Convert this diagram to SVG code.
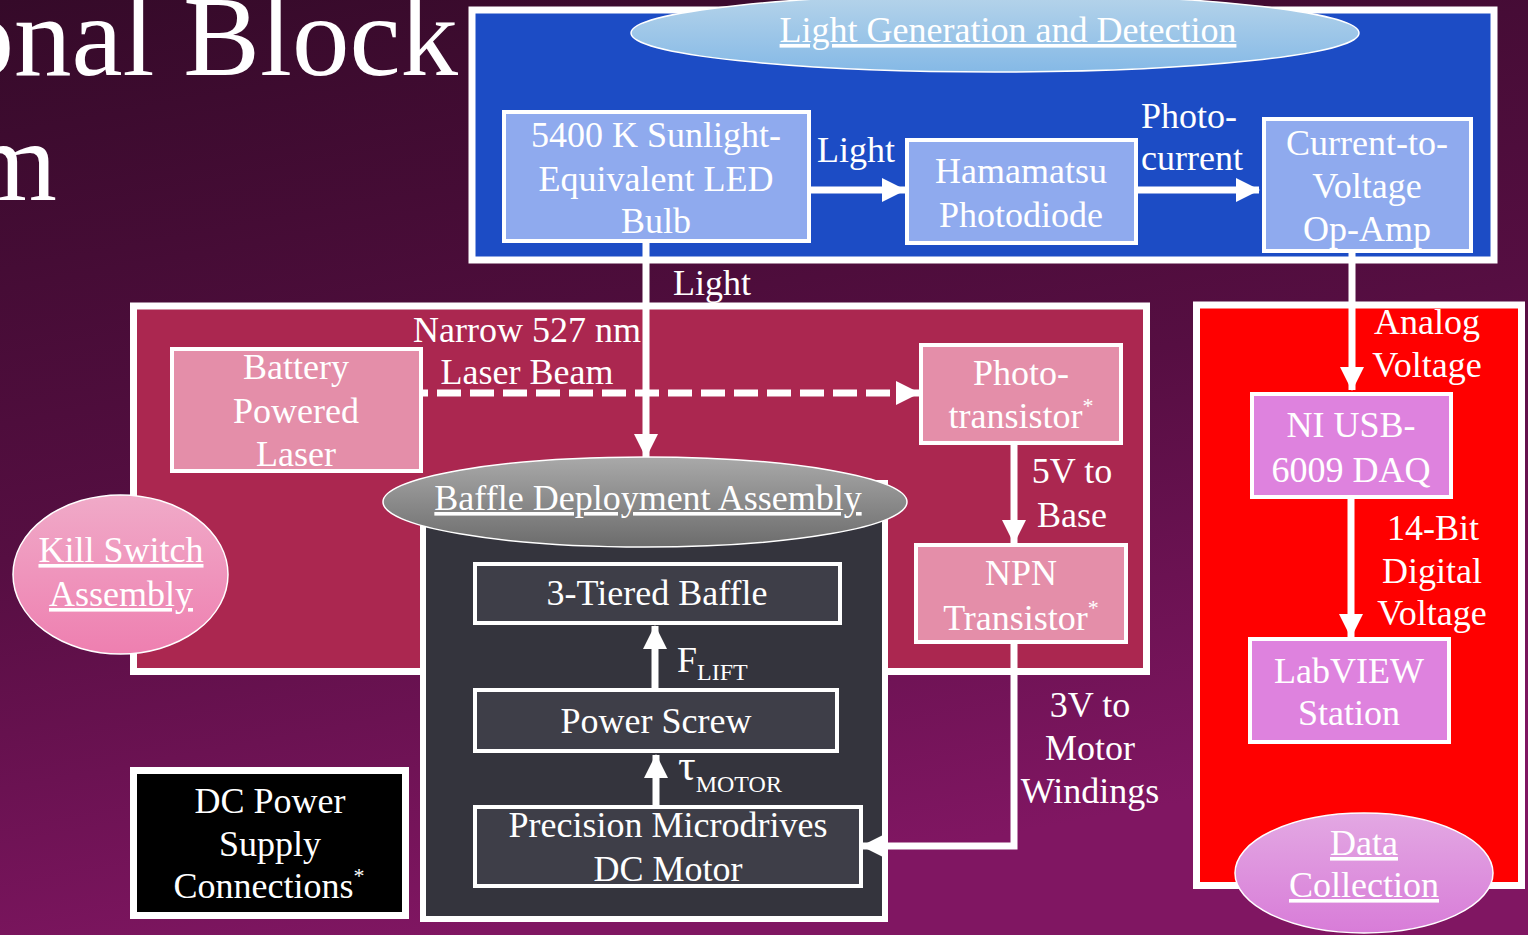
<svg xmlns="http://www.w3.org/2000/svg" width="1528" height="935" viewBox="0 0 1528 935">
<defs>
  <linearGradient id="bg" x1="0" y1="0" x2="0.3" y2="1">
    <stop offset="0" stop-color="#350a29"/>
    <stop offset="0.55" stop-color="#560e42"/>
    <stop offset="1" stop-color="#801662"/>
  </linearGradient>
  <linearGradient id="gBlue" x1="0" y1="0" x2="0" y2="1">
    <stop offset="0" stop-color="#b6d4ea"/>
    <stop offset="1" stop-color="#85b9e6"/>
  </linearGradient>
  <linearGradient id="gGrey" x1="0" y1="0" x2="0" y2="1">
    <stop offset="0" stop-color="#a9a9a9"/>
    <stop offset="1" stop-color="#6c6c6c"/>
  </linearGradient>
  <linearGradient id="gPink" x1="0" y1="0" x2="0" y2="1">
    <stop offset="0" stop-color="#f0aac8"/>
    <stop offset="1" stop-color="#ee7fb0"/>
  </linearGradient>
  <linearGradient id="gOrchid" x1="0" y1="0" x2="0" y2="1">
    <stop offset="0" stop-color="#e3a8e3"/>
    <stop offset="1" stop-color="#d87cd8"/>
  </linearGradient>
  <marker id="ah" markerUnits="userSpaceOnUse" viewBox="0 0 24 24" markerWidth="24" markerHeight="24" refX="23" refY="12" orient="auto">
    <path d="M0,0 L24,12 L0,24 z" fill="#ffffff"/>
  </marker>
</defs>
<style>
  text { font-family: "Liberation Serif", "Times New Roman", serif; fill: #ffffff; }
  .t { font-size: 36px; text-anchor: middle; }
  .ts { font-size: 36px; text-anchor: start; }
  .u { text-decoration: underline; }
  .cont { stroke: #ffffff; stroke-width: 7; }
  .box { stroke: #ffffff; stroke-width: 4; }
  .blueN { fill: #8faaee; }
  .pinkN { fill: #e48ea9; }
  .orchN { fill: #de82de; }
  .darkN { fill: #3e3e48; }
  .conn { stroke: #ffffff; stroke-width: 7; fill: none; }
  .ell { stroke: #ffffff; stroke-width: 1.5; }
</style>

<rect x="0" y="0" width="1528" height="935" fill="url(#bg)"/>

<g id="title">
  <text x="458" y="75" font-size="115" text-anchor="end" fill="#f6f6f6">onal Block</text>
  <text x="57" y="200" font-size="115" text-anchor="end" fill="#f6f6f6">m</text>
</g>

<!-- containers -->
<g id="light-generation-and-detection">
  <rect class="cont" x="472" y="10" width="1022" height="250" fill="#1c4cc5"/>
</g>
<g id="kill-switch-region">
  <rect class="cont" x="133.5" y="306" width="1013" height="365.5" fill="#ab2750"/>
</g>
<g id="data-collection-region">
  <rect class="cont" x="1196.5" y="305" width="325" height="580.5" fill="#ff0000"/>
</g>
<g id="baffle-deployment-region">
  <rect x="423" y="483" width="462" height="436" fill="#34343d" stroke="#ffffff" stroke-width="6"/>
</g>
<g id="dc-power">
  <rect class="cont" x="133.5" y="770.5" width="272" height="145" fill="#000000"/>
  <text class="t" x="270" y="813">DC Power</text>
  <text class="t" x="270" y="856">Supply</text>
  <text class="t" x="269" y="898">Connections<tspan font-size="22" dy="-15">*</tspan></text>
</g>

<!-- connectors -->
<g id="connectors">
  <line class="conn" x1="811" y1="190" x2="905" y2="190" marker-end="url(#ah)"/>
  <text class="t" x="856" y="162">Light</text>

  <line class="conn" x1="1138" y1="190" x2="1259" y2="190" marker-end="url(#ah)"/>
  <text class="ts" x="1141" y="128">Photo-</text>
  <text class="ts" x="1141" y="170">current</text>

  <line class="conn" x1="646" y1="243" x2="646" y2="457" marker-end="url(#ah)"/>
  <text class="ts" x="673" y="295">Light</text>

  <line class="conn" x1="1352" y1="253" x2="1352" y2="390" marker-end="url(#ah)"/>
  <text class="t" x="1427" y="334">Analog</text>
  <text class="t" x="1427" y="377">Voltage</text>

  <line class="conn" x1="1351" y1="499" x2="1351" y2="637" marker-end="url(#ah)"/>
  <text class="t" x="1433" y="540">14-Bit</text>
  <text class="t" x="1432" y="583">Digital</text>
  <text class="t" x="1432" y="625">Voltage</text>

  <line class="conn" x1="423" y1="393" x2="919" y2="393" stroke-dasharray="24 9" stroke-dashoffset="-14" marker-end="url(#ah)"/>
  <text class="t" x="527" y="342">Narrow 527 nm</text>
  <text class="t" x="527" y="384">Laser Beam</text>

  <line class="conn" x1="1014" y1="445" x2="1014" y2="543" marker-end="url(#ah)"/>
  <text class="t" x="1072" y="483">5V to</text>
  <text class="t" x="1072" y="527">Base</text>

  <polyline class="conn" points="1014,644 1014,846 862,846" marker-end="url(#ah)"/>
  <text class="t" x="1090" y="717">3V to</text>
  <text class="t" x="1090" y="760">Motor</text>
  <text class="t" x="1090" y="803">Windings</text>

  <line class="conn" x1="655" y1="688" x2="655" y2="626" marker-end="url(#ah)"/>
  <text class="ts" x="677" y="672">F<tspan font-size="24" dy="8">LIFT</tspan></text>

  <line class="conn" x1="656" y1="805" x2="656" y2="755" marker-end="url(#ah)"/>
  <text class="ts" x="678" y="780" style="font-size:44px">τ<tspan style="font-size:24px" dy="12">MOTOR</tspan></text>
</g>

<!-- nodes -->
<g id="light-gen-label">
  <ellipse class="ell" cx="995" cy="33" rx="364" ry="39" fill="url(#gBlue)"/>
  <text class="t u" x="1008" y="42">Light Generation and Detection</text>
</g>
<g id="led-bulb">
  <rect class="box blueN" x="504" y="112" width="305" height="129"/>
  <text class="t" x="656" y="147">5400 K Sunlight-</text>
  <text class="t" x="656" y="191">Equivalent LED</text>
  <text class="t" x="656" y="233">Bulb</text>
</g>
<g id="hamamatsu-photodiode">
  <rect class="box blueN" x="907" y="140" width="229" height="103"/>
  <text class="t" x="1021" y="183">Hamamatsu</text>
  <text class="t" x="1021" y="227">Photodiode</text>
</g>
<g id="op-amp">
  <rect class="box blueN" x="1264" y="119" width="207" height="132"/>
  <text class="t" x="1367" y="155">Current-to-</text>
  <text class="t" x="1367" y="198">Voltage</text>
  <text class="t" x="1367" y="241">Op-Amp</text>
</g>
<g id="battery-laser">
  <rect class="box pinkN" x="172" y="349" width="249" height="122"/>
  <text class="t" x="296" y="379">Battery</text>
  <text class="t" x="296" y="423">Powered</text>
  <text class="t" x="296" y="466">Laser</text>
</g>
<g id="phototransistor">
  <rect class="box pinkN" x="921" y="345" width="200" height="98"/>
  <text class="t" x="1021" y="385">Photo-</text>
  <text class="t" x="1021" y="428">transistor<tspan font-size="22" dy="-15">*</tspan></text>
</g>
<g id="npn-transistor">
  <rect class="box pinkN" x="916" y="545" width="210" height="97"/>
  <text class="t" x="1021" y="585">NPN</text>
  <text class="t" x="1021" y="630">Transistor<tspan font-size="22" dy="-15">*</tspan></text>
</g>
<g id="kill-switch-assembly">
  <ellipse class="ell" cx="120.5" cy="574.5" rx="107.5" ry="79.5" fill="url(#gPink)"/>
  <text class="t u" x="121" y="562">Kill Switch</text>
  <text class="t u" x="121" y="606">Assembly</text>
</g>
<g id="baffle-deployment-assembly">
  <ellipse class="ell" cx="645" cy="502" rx="262" ry="45" fill="url(#gGrey)"/>
  <text class="t u" x="648" y="510">Baffle Deployment Assembly</text>
</g>
<g id="three-tiered-baffle">
  <rect class="box darkN" x="475" y="564" width="365" height="59"/>
  <text class="t" x="657" y="605">3-Tiered Baffle</text>
</g>
<g id="power-screw">
  <rect class="box darkN" x="475" y="690" width="362" height="61"/>
  <text class="t" x="656" y="733">Power Screw</text>
</g>
<g id="dc-motor">
  <rect class="box darkN" x="475" y="807" width="386" height="79"/>
  <text class="t" x="668" y="837">Precision Microdrives</text>
  <text class="t" x="668" y="881">DC Motor</text>
</g>
<g id="daq">
  <rect class="box orchN" x="1252" y="394" width="199" height="103"/>
  <text class="t" x="1351" y="437">NI USB-</text>
  <text class="t" x="1351" y="482">6009 DAQ</text>
</g>
<g id="labview-station">
  <rect class="box orchN" x="1250" y="639" width="199" height="103"/>
  <text class="t" x="1349" y="683">LabVIEW</text>
  <text class="t" x="1349" y="725">Station</text>
</g>
<g id="data-collection">
  <ellipse class="ell" cx="1364" cy="873" rx="129" ry="60" fill="url(#gOrchid)"/>
  <text class="t u" x="1364" y="855">Data</text>
  <text class="t u" x="1364" y="897">Collection</text>
</g>
</svg>
